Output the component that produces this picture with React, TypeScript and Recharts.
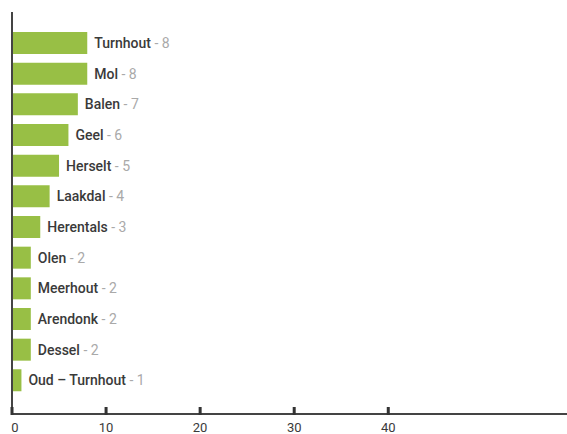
import { Bar, BarChart, LabelList, XAxis, YAxis } from "recharts";

const towns = ["Turnhout", "Mol", "Balen", "Geel", "Herselt", "Laakdal", "Herentals", "Olen", "Meerhout", "Arendonk", "Dessel", "Oud – Turnhout"];
const counts = [8, 8, 7, 6, 5, 4, 3, 2, 2, 2, 2, 1];
const xTicks = [0, 10, 20, 30, 40];

const data = towns.map((name, i) => ({ name, count: counts[i] }));

const FONT = "Roboto, 'DejaVu Sans', sans-serif";

function BarLabel(props: any) {
  const { x, y, width, height, index } = props;
  const d = data[index];
  return (
    <text x={x + width + 7} y={y + height / 2} dy={5} fontFamily={FONT} fontSize={14}>
      <tspan fill="#3a3a3a" fontWeight={500}>{d.name}</tspan>
      <tspan fill="#a9a9a9">{` - ${d.count}`}</tspan>
    </text>
  );
}

// tick mark pointing up into the plot, label below the axis
function XTick(props: any) {
  const { x, y, payload } = props;
  return (
    <g>
      <rect x={x - 1.5} y={y - 7} width={3} height={8} fill="#333" />
      <text x={payload.value === 0 ? x + 3 : x} y={y + 18} textAnchor="middle" fill="#3a3a3a" fontFamily={FONT} fontSize={13}>
        {payload.value}
      </text>
    </g>
  );
}

export default function App() {
  return (
    <div style={{ position: "absolute", left: 0, top: 0, width: 567, height: 434, background: "#fff" }}>
      <BarChart width={567} height={434} data={data} layout="vertical" margin={{ top: 12, right: 0, left: 10, bottom: 0 }} barCategoryGap={0}>
        <XAxis
          type="number"
          domain={[0, 59]}
          ticks={xTicks}
          height={20}
          axisLine={{ stroke: "#444", strokeWidth: 2 }}
          tickLine={false}
          tickSize={0}
          tickMargin={0}
          tick={<XTick />}
          interval={0}
        />
        <YAxis
          type="category"
          dataKey="name"
          width={2}
          tick={false}
          tickLine={false}
          axisLine={{ stroke: "#444", strokeWidth: 2 }}
          padding={{ top: 16, bottom: 18 }}
        />
        <Bar dataKey="count" fill="#98bf45" barSize={22} isAnimationActive={false}>
          <LabelList dataKey="count" content={<BarLabel />} />
        </Bar>
      </BarChart>
    </div>
  );
}
